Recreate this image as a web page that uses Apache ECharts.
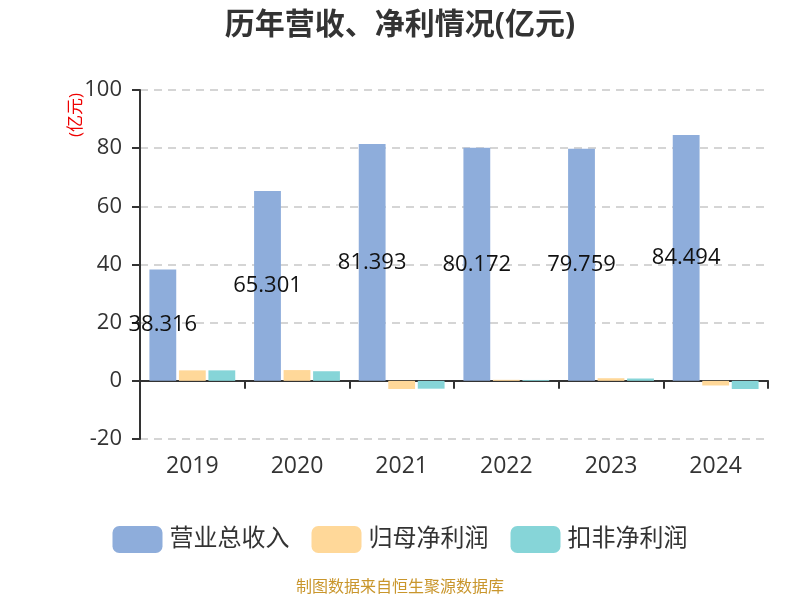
<!DOCTYPE html>
<html>
<head>
<meta charset="utf-8">
<script src="https://cdn.jsdelivr.net/npm/echarts@6/dist/echarts.min.js"></script>
<style>html,body{margin:0;padding:0;background:#fff}#c{width:800px;height:600px}</style>
</head>
<body>
<div id="c"></div>
<script>
const categories = ['2019','2020','2021','2022','2023','2024'];
const revenue = [38.316, 65.301, 81.393, 80.172, 79.759, 84.494];
const netProfit = [3.6, 3.7, -2.8, 0.35, 0.9, -1.6];
const deductedProfit = [3.6, 3.3, -2.7, 0.3, 0.8, -2.8];
const seriesNames = ['营业总收入', '归母净利润', '扣非净利润'];
const colors = ['#8EADDB', '#FFD899', '#86D5D8'];

const chart = echarts.init(document.getElementById('c'));
const font = '"Open Sans", "Noto Sans CJK SC", sans-serif';
chart.setOption({
  animation: false,
  textStyle: { fontFamily: font },
  title: {
    text: '历年营收、净利情况(亿元)',
    left: 'center', top: 5,
    textStyle: { fontSize: 30, fontWeight: 'bold', color: '#333', fontFamily: font }
  },
  color: colors,
  grid: { left: 140, right: 32, top: 90, bottom: 161 },
  legend: {
    data: seriesNames,
    top: 521, left: 'center',
    itemWidth: 50, itemHeight: 27, itemGap: 22,
    icon: 'roundRect',
    textStyle: { fontSize: 24, color: '#333', fontFamily: font, padding: [0, 0, 0, 2] }
  },
  xAxis: {
    type: 'category',
    data: categories,
    axisLine: { onZero: true, lineStyle: { color: '#333', width: 2 } },
    axisTick: { show: true, length: 8, lineStyle: { color: '#333', width: 2 } },
    axisLabel: { fontSize: 23, color: '#333', margin: 16 }
  },
  yAxis: {
    type: 'value',
    min: -20, max: 100, interval: 20,
    axisLine: { show: true, lineStyle: { color: '#333', width: 2 } },
    axisTick: { show: true, length: 8, lineStyle: { color: '#333', width: 2 } },
    axisLabel: { fontSize: 22, color: '#333', margin: 18 },
    splitLine: { lineStyle: { color: '#c8c8c8', type: [8, 6], width: 1.5 } }
  },
  graphic: [{
    type: 'text', x: 76, y: 115, rotation: Math.PI / 2,
    style: { text: '(亿元)', fill: '#e00', font: '17px ' + font, align: 'center', verticalAlign: 'middle' }
  }, {
    type: 'text', left: 'center', top: 579,
    style: { text: '制图数据来自恒生聚源数据库', fill: '#C9962C', font: '16px ' + font }
  }],
  series: [
    {
      name: seriesNames[0], type: 'bar', data: revenue,
      barGap: '10%', barCategoryGap: '18%',
      label: { show: true, position: 'inside', fontSize: 22, color: '#111', formatter: p => p.value.toFixed(3) }
    },
    { name: seriesNames[1], type: 'bar', data: netProfit },
    { name: seriesNames[2], type: 'bar', data: deductedProfit }
  ]
});
</script>
</body>
</html>
